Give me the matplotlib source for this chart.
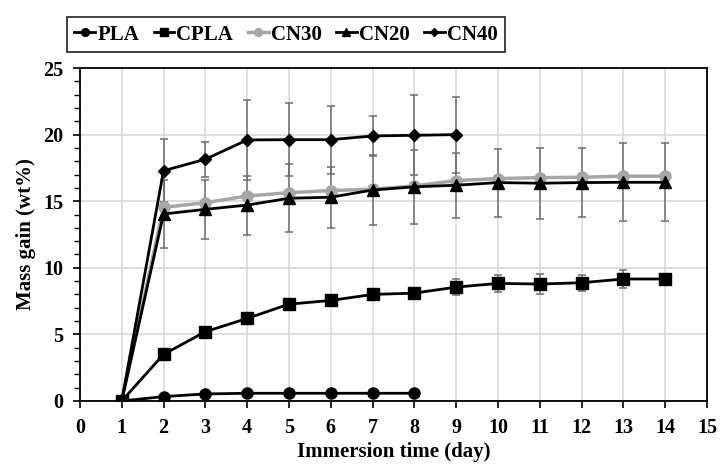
import matplotlib.pyplot as plt
from matplotlib.ticker import MultipleLocator

# mass gain (wt%) vs immersion time (day)
days_pla = [1, 2, 3, 4, 5, 6, 7, 8]
pla = [0, 0.33, 0.53, 0.58, 0.58, 0.58, 0.58, 0.58]

days_long = [1, 2, 3, 4, 5, 6, 7, 8, 9, 10, 11, 12, 13, 14]
cpla = [0, 3.5, 5.2, 6.2, 7.27, 7.55, 8.0, 8.1, 8.55, 8.83, 8.78, 8.88, 9.16, 9.16]
cpla_err = [0, 0.2, 0.2, 0.2, 0.25, 0.25, 0.3, 0.3, 0.6, 0.66, 0.77, 0.6, 0.7, 0.3]

cn30 = [0, 14.54, 14.89, 15.39, 15.64, 15.8, 15.9, 16.15, 16.55, 16.7, 16.77, 16.8, 16.88, 16.88]

cn20 = [0, 14.04, 14.39, 14.71, 15.22, 15.3, 15.84, 16.08, 16.2, 16.4, 16.35, 16.4, 16.42, 16.42]
cn20_err = [0, 2.54, 2.2, 2.22, 2.55, 2.3, 2.6, 2.8, 2.45, 2.55, 2.68, 2.58, 2.93, 2.93]

days_cn40 = [1, 2, 3, 4, 5, 6, 7, 8, 9]
cn40 = [0, 17.29, 18.15, 19.6, 19.62, 19.62, 19.9, 19.95, 20.0]
cn40_err = [0, 2.35, 1.3, 3.0, 2.75, 2.55, 1.5, 3.0, 2.85]

plt.rcParams['font.family'] = 'Liberation Serif'
plt.rcParams['font.weight'] = 'bold'

fig = plt.figure(figsize=(7.2, 4.66), dpi=100)
ax = fig.add_axes([0.111, 0.1395, 0.871, 0.7145])

ecol = '#6e6e6e'
ekw = dict(fmt='none', ecolor=ecol, elinewidth=1.1, capsize=3, capthick=1.1, zorder=2)
ax.errorbar(days_long, cpla, yerr=cpla_err, **ekw)
ax.errorbar(days_long, cn20, yerr=cn20_err, **ekw)
ax.errorbar(days_cn40, cn40, yerr=cn40_err, **ekw)

lw = 2.0
h1, = ax.plot(days_pla, pla, '-o', color='black', lw=lw, ms=8, label='PLA', zorder=4)
h2, = ax.plot(days_long, cpla, '-s', color='black', lw=lw, ms=8, label='CPLA', zorder=4)
h3, = ax.plot(days_long, cn30, '-o', color='#a6a6a6', lw=lw + 0.5, ms=8, label='CN30', zorder=3)
h4, = ax.plot(days_long, cn20, '-^', color='black', lw=lw, ms=8, label='CN20', zorder=4)
h5, = ax.plot(days_cn40, cn40, '-D', color='black', lw=lw, ms=6, label='CN40', zorder=4)

ax.set_xlim(0, 15)
ax.set_ylim(0, 25)
ax.xaxis.set_major_locator(MultipleLocator(1))
ax.yaxis.set_major_locator(MultipleLocator(5))
ax.yaxis.set_minor_locator(MultipleLocator(1))
ax.grid(True, which='major', color='#d9d9d9', lw=1.2, zorder=0)
ax.set_axisbelow(True)
ax.tick_params(axis='both', which='major', direction='out', length=5, width=1.2,
               labelsize=14.5)
ax.tick_params(axis='x', which='major', pad=7)
ax.tick_params(axis='y', which='major', pad=7)
ax.tick_params(axis='y', which='minor', direction='out', length=4, width=1.0)
for s in ax.spines.values():
    s.set_linewidth(1.3)

ax.set_xlabel('Immersion time (day)', fontsize=15, fontweight='bold', labelpad=3)
ax.set_ylabel('Mass gain (wt%)', fontsize=15, fontweight='bold', labelpad=5)

leg = fig.legend(handles=[h1, h2, h3, h4, h5], loc='center', ncol=5,
                 bbox_to_anchor=(67 / 720, 1 - 52 / 466, (505 - 67) / 720, 35 / 466),
                 mode='expand', frameon=True, fancybox=False, edgecolor='black',
                 fontsize=15, handlelength=1.0, handletextpad=0.1, borderpad=0.35,
                 columnspacing=0.8, markerscale=0.7, borderaxespad=0)
leg.get_frame().set_linewidth(1.3)

fig.savefig('out.png', dpi=100)
